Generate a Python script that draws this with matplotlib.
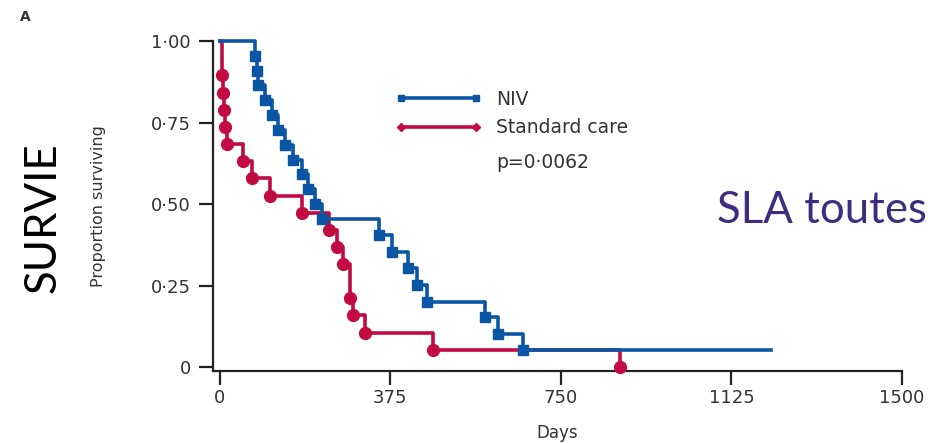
import matplotlib
matplotlib.use("Agg")
import matplotlib.pyplot as plt
from matplotlib.lines import Line2D

# ---- data ----
niv_days = [0, 77, 81, 84, 99, 114, 128, 143, 161, 180, 194, 209, 224,
            350, 379, 414, 433, 456, 583, 612, 667, 1213]
niv_surv = [1.0, 0.955, 0.909, 0.864, 0.818, 0.773, 0.727, 0.682, 0.636,
            0.591, 0.545, 0.500, 0.455, 0.405, 0.354, 0.303, 0.252, 0.200,
            0.154, 0.103, 0.052, 0.052]
std_days = [0, 4, 6, 9, 12, 15, 51, 70, 110, 180, 241, 257, 271, 286, 293,
            319, 469, 880]
std_surv = [1.0, 0.895, 0.842, 0.789, 0.737, 0.684, 0.632, 0.579, 0.526,
            0.474, 0.421, 0.368, 0.316, 0.211, 0.160, 0.105, 0.053, 0.0]
x_ticks = [0, 375, 750, 1125, 1500]
x_ticklabels = ["0", "375", "750", "1125", "1500"]
y_ticks = [0, 0.25, 0.5, 0.75, 1.0]
y_ticklabels = ["0", "0\u00b725", "0\u00b750", "0\u00b775", "1\u00b700"]

BLUE = "#0a56a4"
RED = "#c20a43"

fig = plt.figure(figsize=(9.33, 4.43), dpi=100)
ax = fig.add_axes([0.2283, 0.1625, 0.7385, 0.7449])

# standard care
ax.step(std_days, std_surv, where="post", color=RED, lw=2.6, clip_on=False, zorder=3)
ax.plot(std_days[1:], std_surv[1:], ls="none", marker="o", ms=8.5, color=RED,
        clip_on=False, zorder=3)
# NIV
ax.step(niv_days, niv_surv, where="post", color=BLUE, lw=2.6, clip_on=False, zorder=4)
ax.plot(niv_days[1:-1], niv_surv[1:-1], ls="none", marker="s", ms=6.5, color=BLUE,
        clip_on=False, zorder=4)

ax.set_xlim(-15, 1500)
ax.set_ylim(-0.012, 1.0)
ax.set_xticks(x_ticks)
ax.set_xticklabels(x_ticklabels)
ax.set_yticks(y_ticks)
ax.set_yticklabels(y_ticklabels)
for s in ["top", "right"]:
    ax.spines[s].set_visible(False)
for s in ["left", "bottom"]:
    ax.spines[s].set_linewidth(1.6)
    ax.spines[s].set_color("#222222")
ax.tick_params(axis="both", direction="out", length=10, width=1.6, color="#222222",
               labelsize=13, labelcolor="#333333")
ax.tick_params(axis="x", pad=3)
ax.tick_params(axis="y", pad=6)

ax.set_xlabel("Days", fontsize=12, color="#333333", labelpad=12)
ax.set_ylabel("Proportion surviving", fontsize=11.5, color="#333333", labelpad=32)

handles = [
    Line2D([0], [0], color=BLUE, lw=2.6, marker="s", ms=5),
    Line2D([0], [0], color=RED, lw=2.6, marker="D", ms=4),
]
leg = ax.legend(handles, ["NIV", "Standard care"], loc="upper left",
                bbox_to_anchor=(395 / 933, 1 - 90 / 443), bbox_transform=fig.transFigure,
                frameon=False, numpoints=2, handlelength=4.6, handletextpad=0.8,
                fontsize=13.5, labelspacing=0.5, borderpad=0, borderaxespad=0)
for t in leg.get_texts():
    t.set_color("#333333")
fig.text(496 / 933, 1 - 162 / 443, "p=0\u00b70062", fontsize=13.5, color="#333333",
         va="center", ha="left")

fig.text(20 / 933, 1 - 17 / 443, "A", fontsize=10, fontweight="bold", color="#333333",
         va="center", ha="left")
fig.text(43 / 933, 1 - 218 / 443, "SURVIE", fontsize=31.5, family="Lato", rotation=90,
         va="center", ha="center", color="black")
fig.text(822 / 933, 1 - 210 / 443, "SLA toutes", fontsize=31.5, family="Lato",
         va="center", ha="center", color="#3d2c80")

fig.savefig("out.png", dpi=100)
